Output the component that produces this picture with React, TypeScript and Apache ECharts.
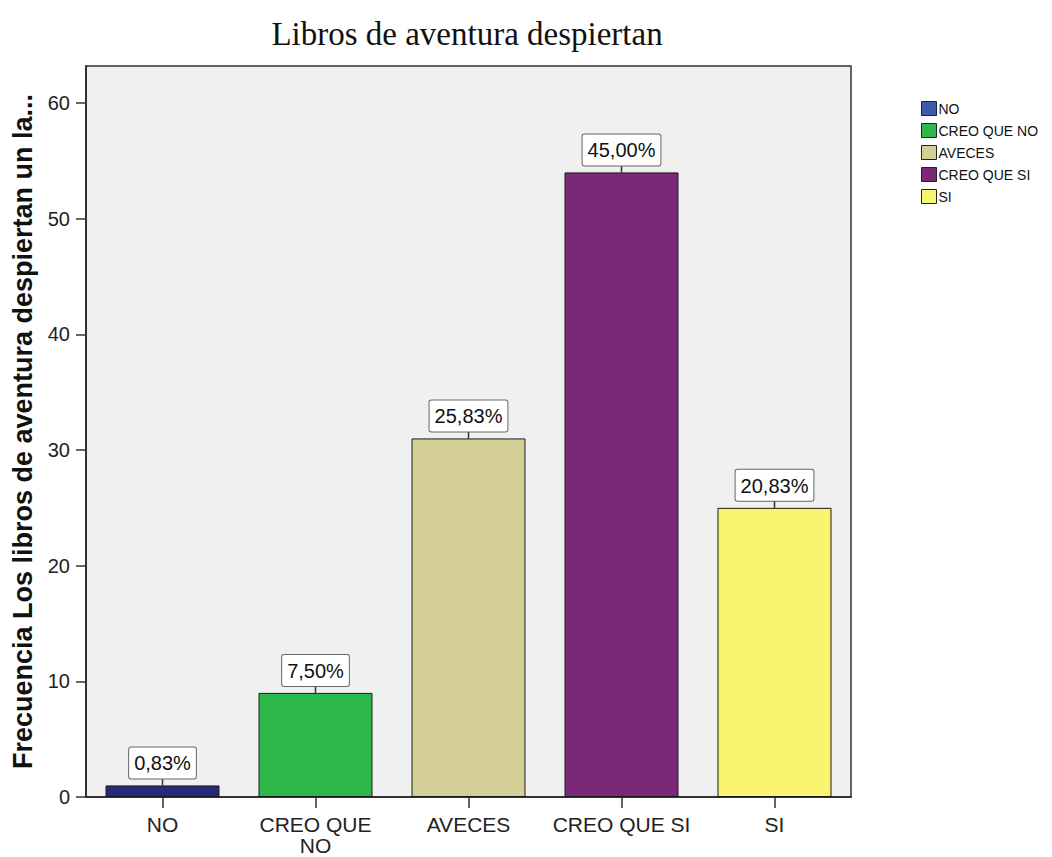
import React, { useEffect, useRef } from "react";
import * as echarts from "echarts";

const categories = ["NO", "CREO QUE\nNO", "AVECES", "CREO QUE SI", "SI"];
const seriesNames = ["NO", "CREO QUE NO", "AVECES", "CREO QUE SI", "SI"];
const counts = [1, 9, 31, 54, 25];
const percentLabels = ["0,83%", "7,50%", "25,83%", "45,00%", "20,83%"];
const barColors = ["#28297A", "#2DB84B", "#D3CF97", "#7B2879", "#FAF56E"];
const legendColors = ["#3E58AC", "#2DB84B", "#D3CF97", "#7B2879", "#FAF56E"];
const yTicks = [0, 10, 20, 30, 40, 50, 60];

export default function App() {
  const ref = useRef<HTMLDivElement>(null);
  useEffect(() => {
    if (!ref.current) return;
    const chart = echarts.init(ref.current, null, { renderer: "svg" });
    const sans = "'Liberation Sans', Arial, sans-serif";

    const barSeries = seriesNames.map((name, i) => ({
      name,
      type: "bar",
      barWidth: "74.5%",
      barGap: "-100%",
      data: counts.map((v, j) => (j === i ? v : null)),
      itemStyle: { color: barColors[i], borderColor: "#1a1a1a", borderWidth: 1 },
      label: {
        show: true,
        position: "top",
        distance: 7,
        formatter: () => percentLabels[i],
        fontFamily: sans,
        fontSize: 20,
        lineHeight: 22,
        color: "#111",
        backgroundColor: "#ffffff",
        borderColor: "#666",
        borderWidth: 1,
        borderRadius: 2,
        padding: [5, 5, 4, 5],
      },
    }));

    const connector = {
      type: "custom",
      silent: true,
      z: 1,
      data: counts.map((v, i) => [i, v]),
      renderItem: (params: any, api: any) => {
        const p = api.coord([api.value(0), api.value(1)]);
        return {
          type: "line",
          shape: { x1: p[0], y1: p[1], x2: p[0], y2: p[1] - 8 },
          style: { stroke: "#333", lineWidth: 1.5 },
        };
      },
    };

    chart.setOption({
      animation: false,
      backgroundColor: "#ffffff",
      title: {
        text: "Libros de aventura despiertan",
        left: 462,
        textAlign: "center",
        top: 12,
        textStyle: {
          fontFamily: "'Liberation Serif', 'Times New Roman', serif",
          fontWeight: "normal",
          fontSize: 33,
          color: "#111",
        },
      },
      legend: {
        orient: "vertical",
        left: 916,
        top: 96,
        itemWidth: 15,
        itemHeight: 14,
        itemGap: 7,
        icon: "rect",
        textStyle: { fontFamily: sans, fontSize: 14, color: "#111", padding: [0, 0, 0, -3] },
        data: seriesNames.map((n, i) => ({
          name: n,
          itemStyle: { color: legendColors[i], borderColor: "#222", borderWidth: 1 },
        })),
      },
      grid: {
        left: 86,
        right: 201,
        top: 66,
        bottom: 60,
        outerBoundsMode: "none",
        containLabel: false,
        show: true,
        backgroundColor: "#F0F0F0",
        borderColor: "#333",
        borderWidth: 1.5,
      },
      xAxis: {
        type: "category",
        data: categories,
        axisLine: { lineStyle: { color: "#222", width: 1.5 } },
        axisTick: { show: true, alignWithLabel: true, interval: 0, length: 11, lineStyle: { color: "#333", width: 1.5 } },
        axisLabel: {
          interval: 0,
          hideOverlap: false,
          fontFamily: sans,
          fontSize: 21,
          color: "#222",
          margin: 17,
          lineHeight: 21,
        },
      },
      yAxis: {
        type: "value",
        min: 0,
        max: 63.2,
        interval: 10,
        name: "Frecuencia Los libros de aventura despiertan un la...",
        nameLocation: "middle",
        nameRotate: 90,
        nameGap: 50,
        nameTextStyle: { fontFamily: sans, fontSize: 27, fontWeight: "bold", color: "#111" },
        axisLine: { show: true, lineStyle: { color: "#222", width: 1.5 } },
        axisTick: { show: true, length: 10, lineStyle: { color: "#333", width: 1.5 } },
        splitLine: { show: false },
        axisLabel: {
          fontFamily: sans,
          fontSize: 20,
          color: "#222",
          margin: 16,
          showMaxLabel: false,
          formatter: (v: number) => (yTicks.includes(v) ? String(v) : ""),
        },
      },
      series: [...barSeries, connector],
    });
    return () => chart.dispose();
  }, []);
  return (
    <div
      ref={ref}
      style={{ position: "fixed", left: 0, top: 0, width: 1052, height: 857 }}
    />
  );
}
